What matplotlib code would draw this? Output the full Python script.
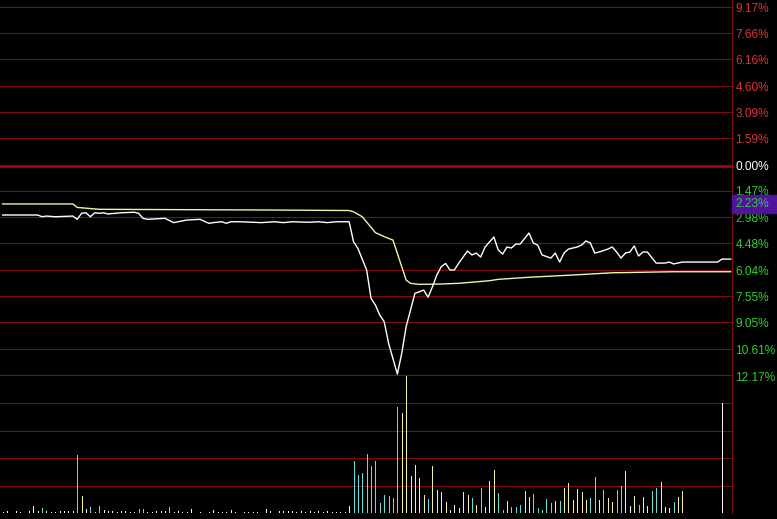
import matplotlib
matplotlib.use("Agg")
import matplotlib.pyplot as plt
from matplotlib.patches import Rectangle
import numpy as np

plt.rcParams["font.family"] = ["Liberation Sans", "DejaVu Sans"]

# right-hand scale (percent change), grid lines sit on these values
tick_vals = [9.17, 7.66, 6.16, 4.60, 3.09, 1.59, 0.00, -1.47, -2.98,
             -4.48, -6.04, -7.55, -9.05, -10.61, -12.17]
cursor_val = -2.23

# price line (minute index, % change)
price_t = [0, 8, 9, 10, 12, 16, 17, 18, 19, 20, 21, 22, 23, 24, 27, 30, 31, 32, 33,
           37, 39, 40, 42, 45, 47, 48, 50, 51, 52, 54, 59, 62, 64, 66, 70, 72, 74, 76,
           79, 80, 81, 83, 84, 85, 86, 87, 88, 90, 91, 92, 94, 95, 96, 97, 98, 99, 100,
           101, 102, 103, 104, 106, 107, 108, 109, 110, 112, 113, 114, 115, 116, 117,
           118, 120, 121, 122, 123, 125, 126, 127, 128, 129, 131, 132, 133, 134, 135,
           136, 138, 139, 140, 141, 142, 143, 144, 145, 146, 147, 149, 151, 152, 153,
           155, 163, 164, 166]
price_v = [-2.86, -2.86, -2.96, -2.92, -2.96, -2.92, -3.11, -2.76, -2.73, -2.96, -2.73,
           -2.76, -2.73, -2.80, -2.73, -2.70, -2.76, -3.05, -3.11, -3.05, -3.30, -3.25,
           -3.15, -3.11, -3.34, -3.30, -3.25, -3.34, -3.25, -3.25, -3.30, -3.25, -3.30,
           -3.25, -3.28, -3.25, -3.30, -3.25, -3.25, -4.40, -4.79, -6.04, -7.68, -8.07,
           -8.65, -9.03, -10.28, -12.06, -10.86, -9.32, -7.39, -7.30, -7.20, -7.62,
           -7.01, -6.33, -5.85, -5.66, -6.04, -6.04, -5.64, -4.94, -5.17, -5.06, -5.29,
           -4.71, -4.13, -4.88, -5.12, -4.71, -4.77, -4.54, -4.54, -3.90, -4.48, -4.60,
           -5.17, -5.35, -5.06, -5.58, -5.06, -4.83, -4.71, -4.60, -4.36, -4.48, -5.06,
           -5.00, -4.83, -4.71, -5.00, -5.35, -5.06, -5.00, -4.65, -5.23, -5.00, -5.00,
           -5.64, -5.64, -5.58, -5.69, -5.58, -5.58, -5.41, -5.41]

# average price line
avg_t = [0, 16, 17, 22, 60, 79, 80, 82, 85, 87, 89, 92, 93, 95, 100, 104, 111, 113,
         120, 130, 139, 153, 166]
avg_v = [-2.22, -2.22, -2.42, -2.53, -2.57, -2.60, -2.67, -2.96, -3.88, -4.11, -4.31,
         -6.62, -6.81, -6.87, -6.85, -6.81, -6.66, -6.58, -6.46, -6.33, -6.20, -6.14,
         -6.14]

# volume per minute: index, height, colour code (w flat, c down, y up)
vol_t = [0, 1, 3, 4, 6, 7, 8, 9, 10, 11, 12, 13, 14, 15, 16, 17, 18, 19, 20, 21, 22,
         23, 24, 25, 26, 27, 28, 29, 30, 31, 32, 33, 34, 35, 36, 37, 38, 39, 40, 41,
         42, 43, 45, 47, 48, 49, 50, 51, 52, 53, 55, 56, 57, 58, 60, 61, 63, 64, 65,
         66, 67, 68, 69, 70, 71, 72, 73, 74, 75, 76, 77, 78, 79,
         80, 81, 82, 83, 84, 85, 86, 87, 88, 89, 90, 91, 92, 93, 94, 95, 96, 97, 98,
         99, 100, 101, 102, 103, 104, 105, 106, 107, 108,
         109, 110, 111, 112, 113, 114, 115, 116, 117, 118, 119, 120, 121, 122, 123,
         124, 125, 126, 127, 128, 129, 130, 131, 132, 133, 134, 135, 136, 137, 138,
         139, 140, 141, 142, 143, 144, 145, 146, 147, 148, 149, 150, 151, 152, 153,
         154, 155, 164]
vol_v = [1.7, 2.3, 2.3, 1.7, 2.3, 7.3, 2.3, 5.3, 2.3, 1.0, 1.7, 2.3, 2.3, 2.3, 2.3,
         58.3, 17.3, 4.3, 6.3, 1.7, 7.3, 3.3, 2.3, 2.3, 1.0, 2.3, 2.3, 1.0, 1.7, 4.3,
         4.3, 1.0, 1.7, 2.3, 2.3, 2.3, 6.7, 1.0, 2.3, 1.7, 1.0, 4.3, 1.0, 1.0, 3.3,
         1.0, 1.7, 1.0, 3.3, 1.0, 1.0, 1.0, 1.7, 1.0, 4.3, 2.0, 2.0, 2.0, 2.0, 2.0,
         1.7, 2.0, 1.7, 2.0, 1.7, 2.0, 1.7, 2.0, 1.7, 1.7, 1.7, 1.0, 7.3,
         52.6, 38.3, 39.9, 59.3, 47.3, 52.6, 10.6, 18.3, 17.3, 15.6, 106.6, 100.6,
         137.0, 37.3, 48.3, 35.6, 18.3, 14.3, 47.3, 23.3, 21.3, 11.3, 3.3, 8.3, 5.6,
         21.3, 18.3, 15.6, 8.3,
         25.6, 6.6, 32.6, 43.3, 20.0, 3.3, 12.3, 6.6, 6.6, 8.3, 22.3, 16.6, 19.3, 5.6,
         3.3, 14.3, 10.6, 12.3, 12.3, 25.6, 30.0, 13.3, 24.6, 21.3, 13.3, 15.6, 36.6,
         13.3, 23.3, 15.6, 11.3, 23.3, 27.3, 42.6, 7.3, 17.3, 8.3, 16.3, 7.3, 22.3,
         25.6, 31.3, 6.3, 5.6, 11.3, 16.6, 22.3, 110.0]
vol_c = list("wwwwwwwcwwwwwwwcywcwcwwwwwwwwccwwwwwc" + "w" * 36
             + "ccccccccccc" + "yyyyyy" + "c" + "yyyyy" + "w" + "yyy" + "cy"
             + "cyyyccyccc" + "yyccccc" + "yc" + "yyyyyy" + "cc" + "yc" + "yy" + "cc"
             + "ywycyy" + "cc" + "yww" + "cyy" + "w")
assert len(vol_c) == len(vol_t) == len(vol_v)

BG = "black"
GRID = "#800c0c"
GRID_BOLD = "#a00000"
RED = "#d83434"
GREEN = "#2ed02e"
bar_colors = {"w": "#f4f4f4", "c": "#62e0e0", "y": "#f2f2a0"}

W, H = 777, 519
fig = plt.figure(figsize=(W / 100, H / 100), dpi=100, facecolor=BG)
ax = fig.add_axes([0, (H - 376) / H, 732 / W, 376 / H], facecolor=BG)
axv = fig.add_axes([0, (H - 513.3) / H, 732 / W, 137.3 / H], facecolor=BG, sharex=ax)

ax.set_xlim(-0.6, 166.3)
ax.set_ylim(-12.17, 9.575)

for v in tick_vals:
    bold = v in (0.0, -12.17)
    ax.axhline(v, color=GRID_BOLD if bold else GRID, lw=2.2 if bold else 0.75, zorder=1)

ax.plot(avg_t, avg_v, color="#f2f2a0", lw=1.0, zorder=3)
ax.plot(price_t, price_v, color="white", lw=1.0, zorder=4)

ax.yaxis.tick_right()
ax.set_yticks(tick_vals)
ax.set_yticklabels([f"{abs(v):.2f}%" for v in tick_vals], fontsize=8.6)
for lab, v in zip(ax.get_yticklabels(), tick_vals):
    lab.set_color("white" if v == 0 else (RED if v > 0 else GREEN))
ax.tick_params(axis="y", length=0, pad=2.5)
ax.tick_params(axis="x", length=0, labelbottom=False)

# highlighted cursor value on the right scale
trans = ax.get_yaxis_transform()
ax.add_patch(Rectangle((1.0, cursor_val - 0.5), 46 / 732, 1.0, transform=trans,
                       facecolor="#5212a0", edgecolor="#5212a0", clip_on=False, zorder=5))
ax.text(1.0 + 3 / 732, cursor_val, f"{abs(cursor_val):.2f}%", transform=trans,
        color=GREEN, fontsize=8.6, va="center", ha="left", clip_on=False, zorder=6)

# volume panel
vmax = 137.3
axv.set_ylim(0, vmax)
for g in np.linspace(0, vmax, 6)[1:-1]:
    axv.axhline(g, color=GRID, lw=0.75, zorder=1)
axv.axhline(0, color="#500000", lw=0.75, zorder=1)
axv.vlines(vol_t, 0, vol_v, colors=[bar_colors[c] for c in vol_c], lw=0.45,
           antialiased=False, zorder=3)
axv.set_yticks([])
axv.tick_params(axis="x", length=0, labelbottom=False)

for a in (ax, axv):
    for s in ("top", "bottom", "left"):
        a.spines[s].set_visible(False)
    a.spines["right"].set_color(GRID)
    a.spines["right"].set_linewidth(0.8)

fig.savefig("out.png", dpi=100, facecolor=BG)
